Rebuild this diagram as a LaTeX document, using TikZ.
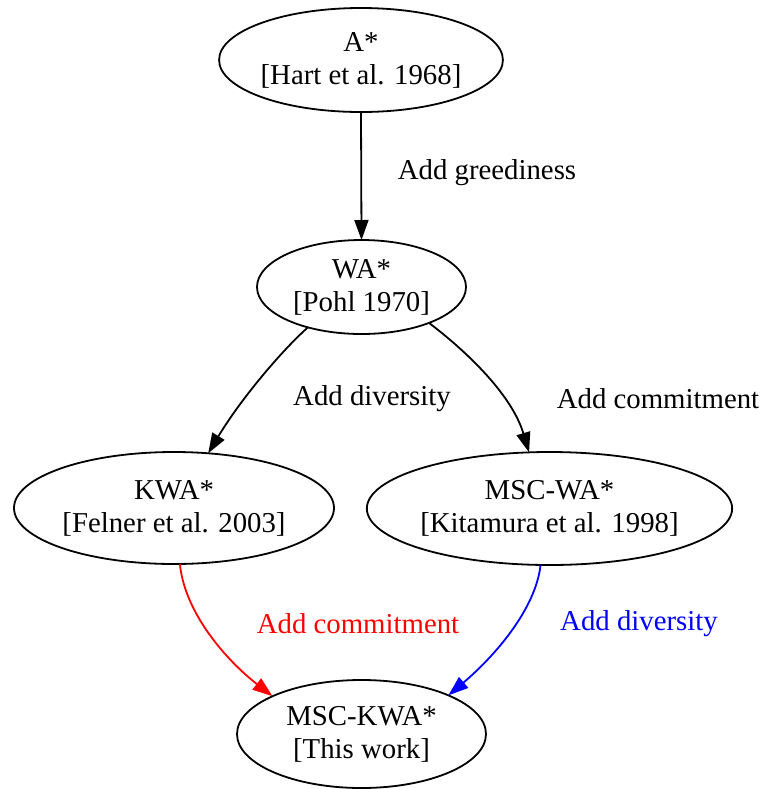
\documentclass[tikz,border=0pt]{standalone}
\usepackage{fontspec}
\setmainfont{Liberation Serif}
\usetikzlibrary{arrows.meta,shapes.geometric}
\begin{document}
\begin{tikzpicture}[x=0.5pt,y=-0.5pt,
  algo/.style={draw, ellipse, line width=0.9pt, inner sep=0pt, outer sep=0pt,
    align=center, font=\fontsize{14.4}{16.5}\selectfont},
  edge/.style={line width=0.9pt, -{Triangle[length=10pt,width=7pt]}},
  lbl/.style={font=\fontsize{14.4}{16.5}\selectfont}]
\useasboundingbox (0,0) rectangle (764,789);

% algorithms
\node[algo, minimum width=141pt, minimum height=52pt] (a) at (361,60) {A*\\{}[Hart et al. 1968]};
\node[algo, minimum width=104.5pt, minimum height=47pt] (wa) at (361.5,287) {WA*\\{}[Pohl 1970]};
\node[algo, minimum width=160pt, minimum height=56pt] (kwa) at (174,508) {KWA*\\{}[Felner et al. 2003]};
\node[algo, minimum width=179.5pt, minimum height=56.5pt] (mscwa) at (549.5,508.5) {MSC-WA*\\{}[Kitamura et al. 1998]};
\node[algo, minimum width=124.5pt, minimum height=54pt] (msckwa) at (361.5,734) {MSC-KWA*\\{}[This work]};

% refinements
\draw[edge] (a.south) -- (wa.north);
\node[lbl] (l1) at (487,173) {Add greediness};

\draw[edge] (wa.217) .. controls +(-25,22) and +(33,-55) .. (kwa.58);
\node[lbl] (l2) at (372,399) {Add diversity};

\draw[edge] (wa.-28) .. controls +(33,25) and +(-18,-60) .. (mscwa.110);
\node[lbl] (l3) at (658,399) {Add commitment};

\draw[edge, red] (kwa.276) .. controls +(5,50) and +(-45,-35) .. (msckwa.157);
\node[lbl, text=red] (l4) at (358,624) {Add commitment};

\draw[edge, blue] (mscwa.261) .. controls +(-5,45) and +(45,-38) .. (msckwa.24.5);
\node[lbl, text=blue] (l5) at (639,624) {Add diversity};
\end{tikzpicture}
\end{document}
